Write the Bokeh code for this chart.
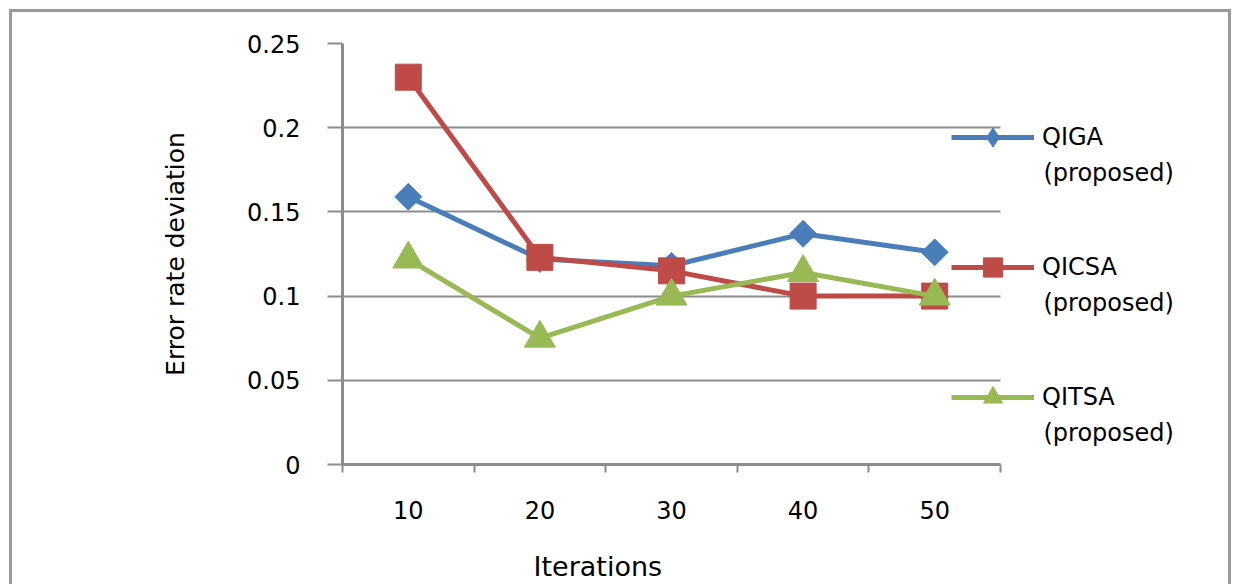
from bokeh.plotting import figure
from bokeh.models import (Range1d, FixedTicker, Legend, LegendItem, Label,
                          BoxAnnotation, Title, LinearAxis)
from bokeh.embed import file_html
from bokeh.resources import INLINE
import math

# ---- data ----
iterations = [10, 20, 30, 40, 50]
qiga = [0.159, 0.122, 0.118, 0.137, 0.126]
qicsa = [0.230, 0.123, 0.115, 0.100, 0.100]
qitsa = [0.122, 0.075, 0.100, 0.114, 0.100]
series_names = ["QIGA", "QICSA", "QITSA"]
series_note = "(proposed)"
y_ticks = [0, 0.05, 0.1, 0.15, 0.2, 0.25]
y_tick_labels = ["0", "0.05", "0.1", "0.15", "0.2", "0.25"]
x_title = "Iterations"
y_title = "Error rate deviation"

FONT = "DejaVu Sans"
GRAY = "#8c8c8c"
BLUE = "#4a7ebb"
RED = "#be4b48"
GREEN = "#98b954"

# ---- layout (pixels) ----
W, H = 1222, 575
LEFT, TOP, BOTTOM = 330, 31, 123
AXIS_PX = 658                       # width of the category area
FRAME_PX = W - LEFT                 # frame runs to the right edge (legend area)
x0, x1 = iterations[0] - 5, iterations[-1] + 5
x_end = x0 + (x1 - x0) * FRAME_PX / AXIS_PX

p = figure(width=W, height=H, x_range=Range1d(x0, x_end), y_range=Range1d(0, 0.25),
           output_backend="svg", toolbar_location=None,
           min_border_left=LEFT, min_border_right=0, min_border_top=TOP,
           min_border_bottom=BOTTOM, outline_line_color=None,
           background_fill_color="white", border_fill_color="white")
p.styles = {"margin-left": "9px", "margin-top": "9px",
            "border-left": "3px solid #9a9a9a", "border-top": "3px solid #9a9a9a",
            "border-right": "3px solid #9a9a9a"}

# axes
xa = p.xaxis[0]
xa.bounds = (x0, x1)
xa.ticker = FixedTicker(ticks=iterations,
                        minor_ticks=[i - 5 for i in iterations] + [x1])
xa.major_label_overrides = {v: str(v) for v in iterations}
xa.major_tick_in = 0
xa.major_tick_out = 0
xa.major_tick_line_color = None
xa.minor_tick_in = 0
xa.minor_tick_out = 8
xa.minor_tick_line_color = GRAY
xa.minor_tick_line_width = 2
xa.axis_line_color = GRAY
xa.axis_line_width = 3
xa.major_label_standoff = 28
xa.major_label_text_font = FONT
xa.major_label_text_font_size = "24px"
xa.major_label_text_color = "black"

# blank spacer axis (white tick, no label, no line) between tick labels and x title
spacer = LinearAxis(ticker=FixedTicker(ticks=[x0]), axis_line_color=None,
                    major_tick_line_color="white", minor_tick_line_color=None,
                    major_tick_in=0, major_tick_out=27, major_label_standoff=0,
                    major_label_overrides={x0: ""},
                    major_label_text_font_size="0px")
p.add_layout(spacer, "below")

# x-axis title, placed under the category area
p.add_layout(Title(text=x_title, align="left", offset=191, standoff=0,
                   vertical_align="bottom",
                   text_font=FONT, text_font_size="27px",
                   text_font_style="normal", text_color="black"), "below")

ya = p.yaxis[0]
ya.ticker = FixedTicker(ticks=y_ticks)
ya.major_label_overrides = dict(zip(y_ticks, y_tick_labels))
ya.major_tick_in = 0
ya.major_tick_out = 15
ya.major_tick_line_color = GRAY
ya.major_tick_line_width = 2
ya.minor_tick_line_color = None
ya.axis_line_color = GRAY
ya.axis_line_width = 3
ya.major_label_standoff = 27
ya.major_label_text_font = FONT
ya.major_label_text_font_size = "24px"
ya.major_label_text_color = "black"
ya.axis_label = y_title
ya.axis_label_text_font = FONT
ya.axis_label_text_font_size = "25px"
ya.axis_label_text_font_style = "normal"
ya.axis_label_text_color = "black"
ya.axis_label_standoff = 54

p.xgrid.grid_line_color = None
yg = p.ygrid[0]
yg.ticker = FixedTicker(ticks=y_ticks)
yg.grid_line_color = GRAY
yg.grid_line_width = 2
if "cross_bounds" in yg.properties():
    yg.cross_bounds = (x0, x1)
else:
    p.add_layout(BoxAnnotation(left=x1, fill_color="white", fill_alpha=1,
                               line_alpha=0, level="underlay"))

# series
l1 = p.line(iterations, qiga, line_color=BLUE, line_width=5)
s1 = p.scatter(iterations, qiga, marker="square", size=19, angle=math.pi / 4,
               fill_color=BLUE, line_color=BLUE)
l2 = p.line(iterations, qicsa, line_color=RED, line_width=5)
s2 = p.scatter(iterations, qicsa, marker="square", size=26,
               fill_color=RED, line_color=RED)
l3 = p.line(iterations, qitsa, line_color=GREEN, line_width=5)
s3 = p.scatter(iterations, qitsa, marker="triangle", size=31,
               fill_color=GREEN, line_color=GREEN)
# hidden twin of the QIGA markers, used for the legend key (legend keys are not rotated)
s1_key = p.scatter(iterations, qiga, marker="diamond", size=19,
                   fill_color=BLUE, line_color=BLUE, visible=False)

legend = Legend(items=[LegendItem(label=series_names[0], renderers=[l1, s1_key]),
                       LegendItem(label=series_names[1], renderers=[l2, s2]),
                       LegendItem(label=series_names[2], renderers=[l3, s3])],
                location=(609, 43), padding=0, margin=0, spacing=82,
                glyph_width=83, glyph_height=48, label_standoff=8,
                label_text_font=FONT, label_text_font_size="24px",
                label_text_color="black", border_line_color=None,
                background_fill_alpha=0)
p.add_layout(legend)

for yy in [292, 162, 32]:
    p.add_layout(Label(x=701, y=yy, x_units="screen", y_units="screen",
                       text=series_note, text_baseline="middle",
                       text_font=FONT, text_font_size="24px",
                       text_color="black"))

open("out.html", "w").write(file_html(p, INLINE))
